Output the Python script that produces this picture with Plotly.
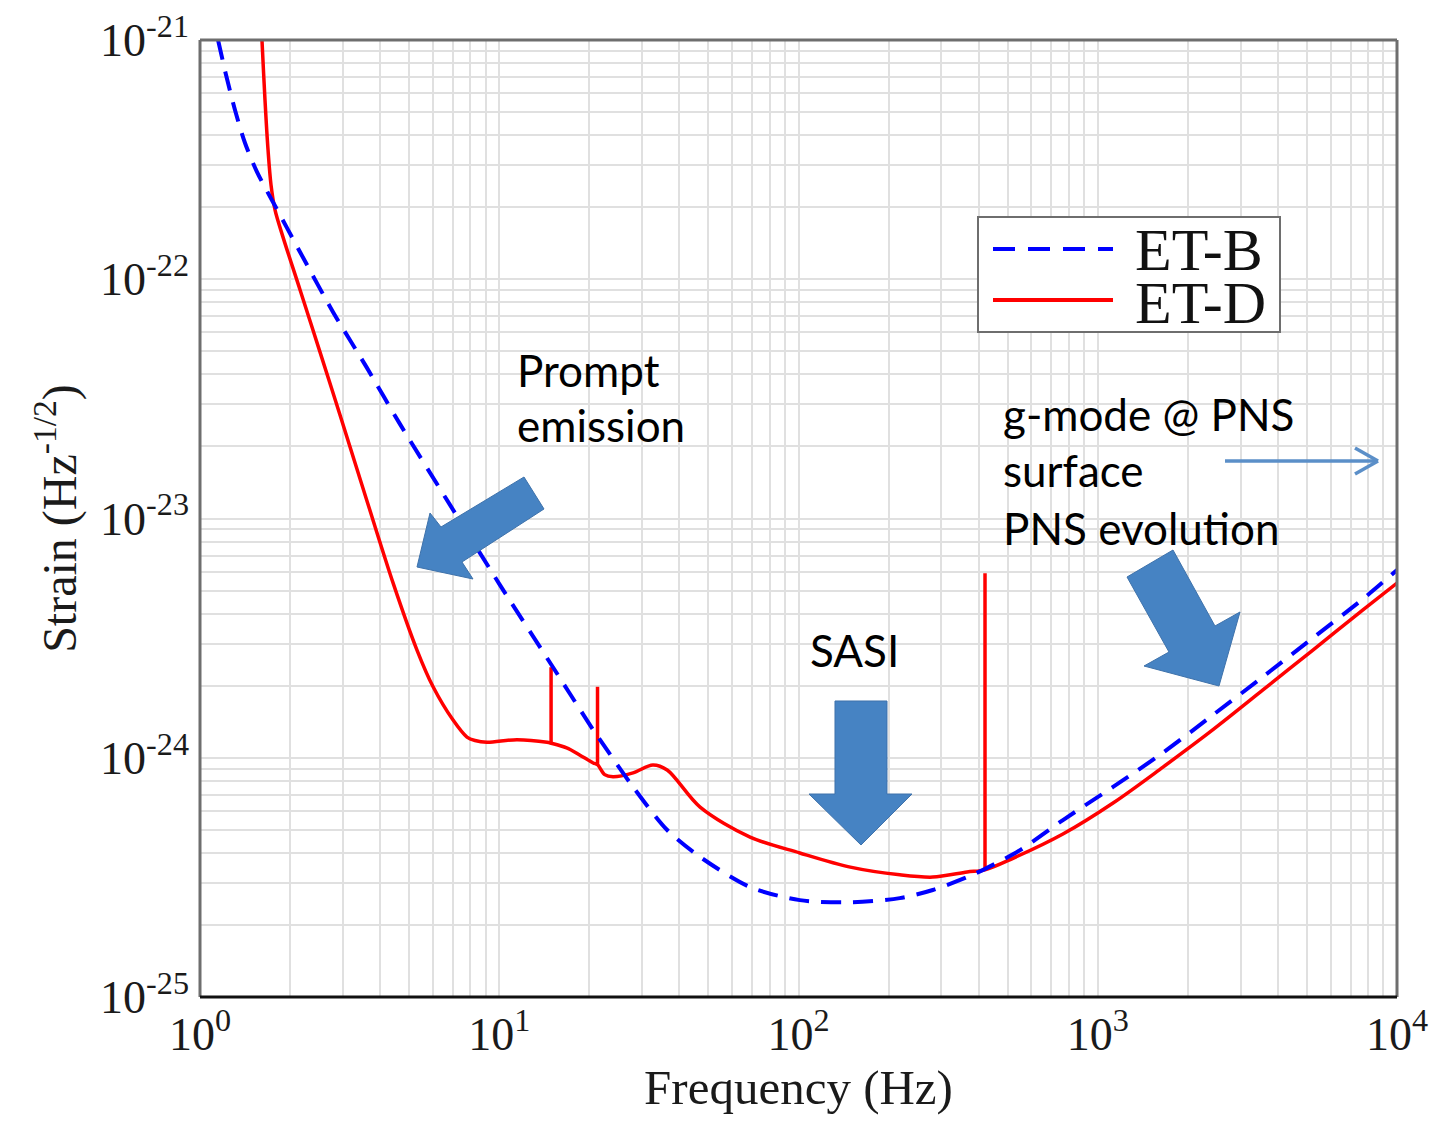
import plotly.graph_objects as go

# ---------------- data ----------------
etb_freq = [1.149, 1.222, 1.309, 1.414, 1.550, 1.740, 1.953, 2.159, 2.782, 3.614, 4.660, 6.846,
            10.06, 15.12, 20.58, 21.7, 28.0, 36.4, 46.9, 68.9, 101, 149, 218,
            281, 366, 414, 550, 765, 1125, 1652, 2427, 3565, 5236, 7695, 10000]
etb_strain = [1.0e-21, 7.14e-22, 5.10e-22, 3.71e-22, 2.81e-22, 2.14e-22, 1.64e-22, 1.30e-22,
              7.30e-23, 4.26e-23, 2.48e-23, 1.14e-23, 5.27e-24, 2.39e-24, 1.31e-24,
              1.19e-24, 7.55e-25, 4.99e-25, 3.85e-25, 2.88e-25, 2.54e-25, 2.49e-25,
              2.59e-25, 2.80e-25, 3.17e-25, 3.40e-25, 4.11e-25, 5.49e-25, 7.55e-25, 1.05e-24,
              1.51e-24, 2.18e-24, 3.17e-24, 4.61e-24, 6.09e-24]

# ET-D smooth curve (without the narrow line features)
etd_freq = [1.60, 1.611, 1.649, 1.688, 1.727, 1.781, 1.894, 2.16, 2.518, 2.937, 3.61, 4.42, 5.31,
            6.01, 7.00, 7.80, 8.3, 9.10, 11.46, 14.45, 14.9, 16.8, 18.5, 20.6,
            21.3, 22.5, 24.0, 28.0, 32.6, 36.4, 46.9, 68.9, 101, 149, 218,
            281, 366, 420, 521, 765, 1125, 1652, 2427, 3565, 5236, 7695, 10000]
etd_strain = [1.2e-21, 1.0e-21, 5.61e-22, 3.47e-22, 2.48e-22, 1.95e-22, 1.50e-22, 9.02e-23, 4.96e-23,
              2.71e-23, 1.19e-23, 5.37e-24, 2.82e-24, 1.98e-24, 1.44e-24, 1.22e-24, 1.18e-24,
              1.16e-24, 1.19e-24, 1.16e-24, 1.15e-24, 1.10e-24, 1.03e-24, 9.51e-25,
              9.35e-25, 8.5e-25, 8.32e-25, 8.64e-25, 9.33e-25, 8.89e-25, 6.22e-25, 4.66e-25,
              4.00e-25, 3.49e-25, 3.24e-25, 3.17e-25, 3.33e-25, 3.40e-25, 3.80e-25, 4.80e-25,
              6.47e-25, 9.14e-25, 1.31e-24, 1.92e-24, 2.82e-24, 4.15e-24, 5.37e-24]

# ET-D narrow spectral lines
spike_freq = [14.9, 21.3, 420]
spike_base = [1.15e-24, 9.35e-25, 3.40e-25]
spike_top = [2.39e-24, 1.98e-24, 5.91e-24]

x_tickvals = [1, 10, 100, 1000, 10000]
x_ticktext = ["10<sup>0</sup>", "10<sup>1</sup>", "10<sup>2</sup>", "10<sup>3</sup>", "10<sup>4</sup>"]
y_tickvals = [1e-25, 1e-24, 1e-23, 1e-22, 1e-21]
y_ticktext = ["10<sup>-25</sup>", "10<sup>-24</sup>", "10<sup>-23</sup>", "10<sup>-22</sup>", "10<sup>-21</sup>"]

series_names = ["ET-B", "ET-D"]

# ---------------- layout geometry ----------------
# page body has an 8px margin, so the figure is laid out 8px smaller
OFF = 8
W, H = 1437 - OFF, 1121 - OFF
PL, PR, PT, PB = 200, 1397, 40, 997          # plot area in page pixels
L, T = PL - OFF, PT - OFF
R = W - L - (PR - PL)
B = H - T - (PB - PT)
PW, PH = PR - PL, PB - PT


def px(x):
    return (x - PL) / PW


def py(y):
    return (PB - y) / PH


SERIF = "Liberation Serif, Times New Roman, serif"
SANS = "Lato, Open Sans, sans-serif"
GRID = "#e0e0e0"
RED = "#ff0000"
BLUE = "#0000ff"

minor_x = [k * 10 ** n for n in range(0, 4) for k in range(2, 10)]
minor_y = [k * 10.0 ** n for n in range(-25, -21) for k in range(2, 10)]

fig = go.Figure()
fig.add_trace(go.Scatter(x=etd_freq, y=etd_strain, mode="lines", name=series_names[1],
                         line=dict(color=RED, width=3.5, shape="spline", smoothing=0.9),
                         showlegend=False))
for f, lo, hi in zip(spike_freq, spike_base, spike_top):
    fig.add_trace(go.Scatter(x=[f, f], y=[lo, hi], mode="lines", name=series_names[1],
                             line=dict(color=RED, width=3.5), showlegend=False))
fig.add_trace(go.Scatter(x=etb_freq, y=etb_strain, mode="lines", name=series_names[0],
                         line=dict(color=BLUE, width=4, dash="20px,12px", shape="spline", smoothing=0.8),
                         showlegend=False))

fig.update_layout(
    width=W, height=H,
    margin=dict(l=L, r=R, t=T, b=B, autoexpand=False),
    paper_bgcolor="white", plot_bgcolor="white",
    showlegend=False,
    xaxis=dict(type="log", range=[0, 4.00001], tickvals=x_tickvals, ticktext=x_ticktext,
               showgrid=True, gridcolor=GRID, gridwidth=2, zeroline=False,
               minor=dict(tickvals=minor_x, showgrid=True, gridcolor=GRID, gridwidth=2, ticks=""),
               ticks="", ticklabelstandoff=6, ticklabeloverflow="allow",
               tickfont=dict(family=SERIF, size=46, color="#1a1a1a"),
               showline=False,
               title=dict(text="Frequency (Hz)", font=dict(family=SERIF, size=49, color="#1a1a1a"),
                          standoff=8)),
    yaxis=dict(type="log", range=[-25.00001, -20.99999], tickvals=y_tickvals, ticktext=y_ticktext,
               showgrid=True, gridcolor=GRID, gridwidth=2, zeroline=False,
               minor=dict(tickvals=minor_y, showgrid=True, gridcolor=GRID, gridwidth=2, ticks=""),
               ticks="", ticklabelstandoff=10, ticklabeloverflow="allow",
               tickfont=dict(family=SERIF, size=46, color="#1a1a1a"),
               showline=False,
               title=dict(text="Strain (Hz<sup>-1/2</sup>)",
                          font=dict(family=SERIF, size=48, color="#1a1a1a"), standoff=8)),
)

shapes = []
# plot frame: gray left/top/right, black bottom
for x0, x1, y0, y1, c in [(0, 0, 0, 1, "#6e6e6e"), (1, 1, 0, 1, "#6e6e6e"),
                          (0, 1, 1, 1, "#6e6e6e"), (0, 1, 0, 0, "#111111")]:
    shapes.append(dict(type="line", xref="paper", yref="paper", x0=x0, x1=x1, y0=y0, y1=y1,
                       line=dict(color=c, width=3), layer="above"))


def poly(points, color="#4683c3"):
    d = "M " + " L ".join(f"{px(x):.5f},{py(y):.5f}" for x, y in points) + " Z"
    return dict(type="path", xref="paper", yref="paper", path=d,
                fillcolor=color, line=dict(color="#3e72ab", width=1), layer="above")


# block arrows
shapes.append(poly([(417, 567), (430, 513), (441, 527), (524, 477), (544, 509), (462, 562), (473, 579)]))
shapes.append(poly([(835, 701), (887, 701), (887, 794), (912, 794), (861, 845), (809, 794), (835, 794)]))
shapes.append(poly([(1127, 577), (1173, 550), (1215, 626), (1240, 612), (1219, 686), (1144, 666), (1169, 652)]))

# thin arrow (shaft + open chevron head)
ARW = "#5b8fc8"
for (x0, y0, x1, y1) in [(1225, 461, 1377, 461), (1355, 448, 1378, 461), (1355, 474, 1378, 461)]:
    shapes.append(dict(type="line", xref="paper", yref="paper", x0=px(x0), y0=py(y0), x1=px(x1), y1=py(y1),
                       line=dict(color=ARW, width=3.5), layer="above"))

# legend box and samples
shapes.append(dict(type="rect", xref="paper", yref="paper", x0=px(978), x1=px(1280), y0=py(332), y1=py(217),
                   line=dict(color="#6e6e6e", width=2), fillcolor="white", layer="above"))
shapes.append(dict(type="line", xref="paper", yref="paper", x0=px(993), x1=px(1113), y0=py(249), y1=py(249),
                   line=dict(color=BLUE, width=4, dash="22px,13px"), layer="above"))
shapes.append(dict(type="line", xref="paper", yref="paper", x0=px(993), x1=px(1113), y0=py(300), y1=py(300),
                   line=dict(color=RED, width=4), layer="above"))
fig.update_layout(shapes=shapes)

ann = []
ann.append(dict(xref="paper", yref="paper", x=px(1133), y=py(250), text=series_names[0], showarrow=False,
                xanchor="left", yanchor="middle", font=dict(family=SERIF, size=60, color="#111111")))
ann.append(dict(xref="paper", yref="paper", x=px(1133), y=py(303), text=series_names[1], showarrow=False,
                xanchor="left", yanchor="middle", font=dict(family=SERIF, size=60, color="#111111")))

labels = [("Prompt", 515, 370), ("emission", 515, 425), ("SASI", 808, 650),
          ("g-mode @ PNS", 1001, 414), ("surface", 1001, 470), ("PNS evolution", 1001, 528)]
for txt, x, y in labels:
    ann.append(dict(xref="paper", yref="paper", x=px(x), y=py(y), text=txt, showarrow=False,
                    xanchor="left", yanchor="middle", font=dict(family=SANS, size=44, color="black")))
fig.update_layout(annotations=ann)

fig.write_html("out.html")
